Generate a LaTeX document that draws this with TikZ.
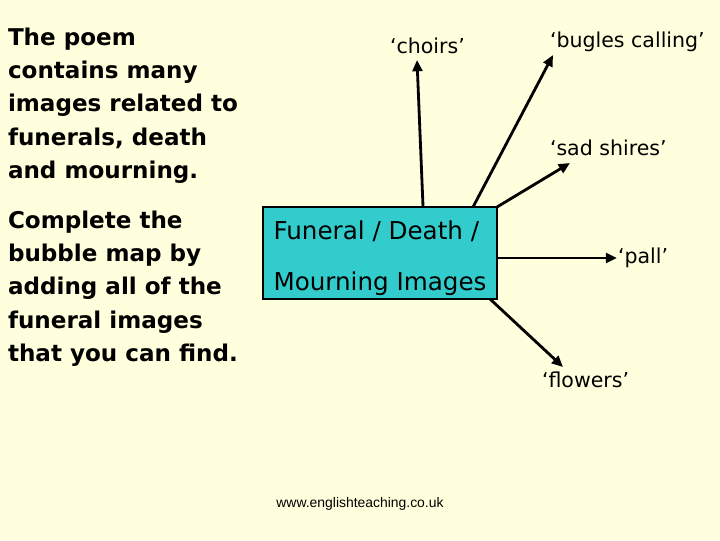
\documentclass[tikz,border=0pt]{standalone}
\usepackage{fontspec}
\setmainfont{DejaVu Sans}
\newfontfamily\webfont{Liberation Sans}
\usetikzlibrary{arrows.meta}
\definecolor{paleyellow}{HTML}{FFFFDD}
\definecolor{tealfill}{HTML}{33CCCC}

\begin{document}
\begin{tikzpicture}
[x=0.025cm,y=-0.025cm,
every node/.style={inner sep=0pt,outer sep=0pt},
intro/.style={anchor=north west,align=left,font=\bfseries\fontsize{16.4}{23.7}\selectfont},
imgtext/.style={anchor=base west,font=\fontsize{14.6}{17}\selectfont},
centre/.style={draw=black,line width=.8pt,fill=tealfill,minimum width=5.85cm,minimum height=2.3cm,align=left,font=\fontsize{17.5}{36}\selectfont},
link/.style={-{Triangle[length=8pt,width=7pt]},line width=2pt}]
\fill[paleyellow] (0,0) rectangle (720,540);
\node[intro] (poem) at (8,27.6) {The poem\\contains many\\images related to\\funerals, death\\and mourning.};
\node[intro] (task) at (8,210.6) {Complete the\\bubble map by\\adding all of the\\funeral images\\that you can find.};
\node[centre] (images) at (380,253) {\rule{0pt}{20.3pt}Funeral / Death /\\Mourning Images};
\node[imgtext] (choirs) at (390,53) {‘choirs’};
\node[imgtext] (bugles) at (550,47) {‘bugles calling’};
\node[imgtext] (shires) at (550,155) {‘sad shires’};
\node[imgtext] (pall) at (618,263) {‘pall’};
\node[imgtext] (flowers) at (542,387) {‘flowers’};
\node[anchor=base,font=\webfont\fontsize{9.9}{12}\selectfont] (web) at (360,507) {www.englishteaching.co.uk};
\draw[link] ([shift={(-74,0)}]images.north east) -- ([shift={(27,7)}]choirs.base west);
\draw[link] ([shift={(-24,0)}]images.north east) -- ([shift={(3,8)}]bugles.base west);
\draw[link] (images.north east) -- ([shift={(20,8)}]shires.base west);
\draw[link] ([shift={(0,5)}]images.east) -- ([shift={(-1,-5)}]pall.base west);
\draw[link] ([shift={(-7,0)}]images.south east) -- ([shift={(21,-20)}]flowers.base west);
\end{tikzpicture}
\end{document}
